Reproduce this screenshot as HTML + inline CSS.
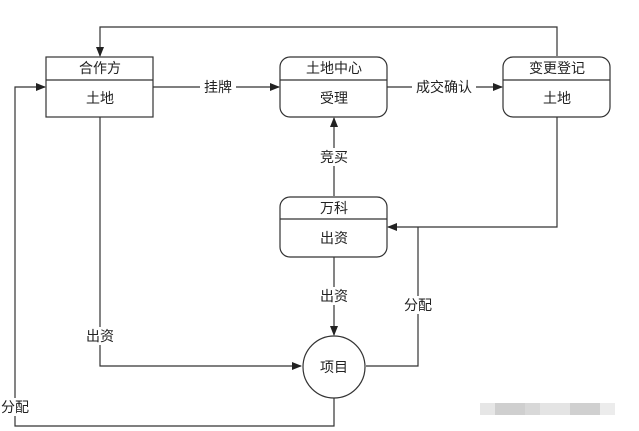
<!DOCTYPE html>
<html><head><meta charset="utf-8"><style>
html,body{margin:0;padding:0;background:#fff;width:639px;height:431px;overflow:hidden}
svg text{font-family:"Liberation Sans","Noto Sans CJK SC",sans-serif;font-size:14px;fill:#222}
</style></head><body>
<svg width="639" height="431" viewBox="0 0 639 431" xmlns="http://www.w3.org/2000/svg">
<defs><marker id="a" markerWidth="10" markerHeight="8" refX="9" refY="4" orient="auto" markerUnits="userSpaceOnUse"><path d="M0,0L10,4L0,8z" fill="#222"/></marker></defs>
<g fill="none" stroke="#333" stroke-width="1.2">
<polyline points="557,56 557,27 100,27 100,56" marker-end="url(#a)"/>
<line x1="153" y1="87" x2="279" y2="87" marker-end="url(#a)"/>
<line x1="387" y1="87" x2="502" y2="87" marker-end="url(#a)"/>
<line x1="334" y1="196" x2="334" y2="118" marker-end="url(#a)"/>
<polyline points="557,117 557,227 388,227" marker-end="url(#a)"/>
<line x1="334" y1="257" x2="334" y2="335" marker-end="url(#a)"/>
<polyline points="366,366 418,366 418,227"/>
<polyline points="100,117 100,366 301,366" marker-end="url(#a)"/>
<polyline points="334,398 334,426 15,426 15,87 45,87" marker-end="url(#a)"/>
<rect x="46" y="57" width="107" height="60" fill="#fff"/>
<line x1="46" y1="80" x2="153" y2="80"/>
<rect x="280" y="57" width="107" height="60" rx="10" fill="#fff"/>
<line x1="280" y1="80" x2="387" y2="80"/>
<rect x="503" y="57" width="107" height="60" rx="10" fill="#fff"/>
<line x1="503" y1="80" x2="610" y2="80"/>
<rect x="280" y="197" width="107" height="60" rx="10" fill="#fff"/>
<line x1="280" y1="219" x2="387" y2="219"/>
<circle cx="334" cy="367" r="31" fill="#fff"/>
</g>
<g fill="#fff">
<rect x="200" y="78" width="36" height="18"/>
<rect x="412" y="78" width="64" height="18"/>
<rect x="316" y="148" width="36" height="18"/>
<rect x="316" y="287" width="36" height="18"/>
<rect x="400" y="296" width="36" height="18"/>
<rect x="82" y="327" width="36" height="18"/>
<rect x="0" y="398" width="32" height="18"/>
</g>
<g text-anchor="middle">
<text x="100" y="73">合作方</text><text x="100" y="103">土地</text>
<text x="334" y="73">土地中心</text><text x="334" y="103">受理</text>
<text x="557" y="73">变更登记</text><text x="557" y="103">土地</text>
<text x="334" y="213">万科</text><text x="334" y="243">出资</text>
<text x="334" y="372">项目</text>
<text x="218" y="92">挂牌</text>
<text x="444" y="92">成交确认</text>
<text x="334" y="162">竞买</text>
<text x="334" y="301">出资</text>
<text x="418" y="310">分配</text>
<text x="100" y="341">出资</text>
<text x="15" y="412">分配</text>
</g>
<g>
<rect x="480" y="403" width="15" height="12" fill="#e6e6e6"/>
<rect x="495" y="403" width="30" height="12" fill="#cfcfcf"/>
<rect x="525" y="403" width="15" height="12" fill="#d8d8d8"/>
<rect x="540" y="403" width="30" height="12" fill="#e4e4e4"/>
<rect x="570" y="403" width="30" height="12" fill="#d0d0d0"/>
<rect x="600" y="403" width="15" height="12" fill="#ececec"/>
</g>
</svg>
</body></html>
